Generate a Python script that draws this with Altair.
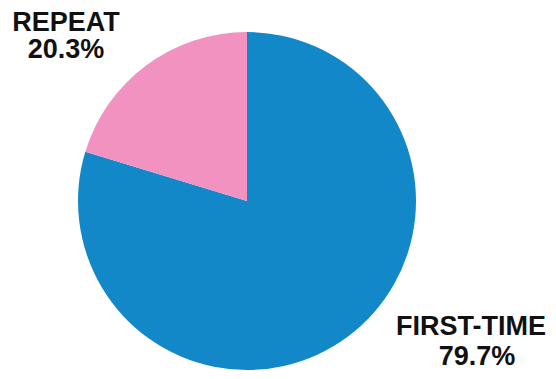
import altair as alt
import pandas as pd

categories = ["FIRST-TIME", "REPEAT"]
shares = [79.7, 20.3]
pct_labels = ["79.7%", "20.3%"]
colors = ["#1288c9", "#f292c1"]

df = pd.DataFrame({"category": categories, "share": shares, "pct": pct_labels,
                   "order": [0, 1]})

W, H = 540, 363
CX, CY, R = 239, 193, 169

pie = alt.Chart(df).mark_arc(outerRadius=R, stroke=None).encode(
    theta=alt.Theta("share:Q", stack=True),
    order=alt.Order("order:Q"),
    color=alt.Color("category:N", scale=alt.Scale(domain=categories, range=colors), legend=None),
    x=alt.value(CX),
    y=alt.value(CY),
)

def txt(cat, field, x, y):
    return alt.Chart(df).transform_filter(alt.datum.category == cat).mark_text(
        font="Liberation Sans", fontWeight="bold", fontSize=27, color="#111111",
        align="center", baseline="alphabetic",
    ).encode(text=f"{field}:N", x=alt.value(x), y=alt.value(y))

chart = alt.layer(
    pie,
    txt("REPEAT", "category", 58, 23),
    txt("REPEAT", "pct", 58, 50),
    txt("FIRST-TIME", "category", 463, 327),
    txt("FIRST-TIME", "pct", 469, 357),
).properties(width=W, height=H, padding=0,
             autosize=alt.AutoSizeParams(type="none")).configure_view(stroke=None)

chart.save("out.html", embed_options={"renderer": "svg", "actions": False})
